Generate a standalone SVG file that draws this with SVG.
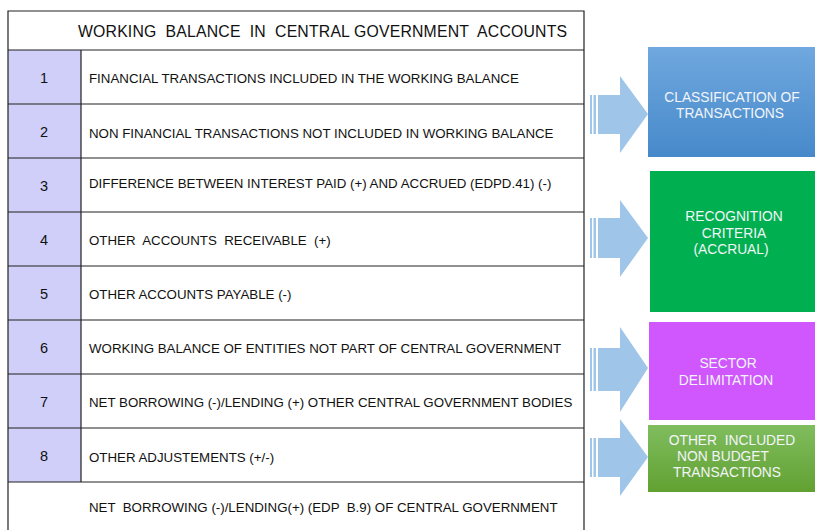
<svg xmlns="http://www.w3.org/2000/svg" width="817" height="530" viewBox="0 0 817 530">
<defs>
<linearGradient id="gBlue" x1="0" y1="0" x2="0" y2="1"><stop offset="0" stop-color="#70a8df"/><stop offset="1" stop-color="#4689ca"/></linearGradient>
<linearGradient id="gGreen" x1="0" y1="0" x2="0" y2="1"><stop offset="0" stop-color="#80bd5f"/><stop offset="1" stop-color="#61a131"/></linearGradient>
</defs>
<style>
text{white-space:pre}
.line{stroke:#222;stroke-width:1.2;fill:none}
.num{fill:#cfcff9}
.t{font-family:"Liberation Sans",Arial,sans-serif;font-size:13.3px;fill:#111}
.n{font-family:"Liberation Sans",Arial,sans-serif;font-size:14.5px;fill:#111;text-anchor:middle}
.h{font-family:"Liberation Sans",Arial,sans-serif;font-size:15.8px;fill:#111}
.b{font-family:"Liberation Sans",Arial,sans-serif;font-size:13.8px;fill:#f2f4f8;text-anchor:middle}
.arr{fill:#9fc5e8}
</style>
<rect width="817" height="530" fill="#ffffff"/>
<g id="table">
<rect class="num" x="8" y="50" width="73" height="432"/>
<path class="line" d="M8,530 V11 H584 V530 M8,50 H584 M8,104 H584 M8,158 H584 M8,212 H584 M8,266 H584 M8,320 H584 M8,374 H584 M8,428 H584 M8,482 H584 M81,50 V482"/>
<text class="h" x="78" y="37" textLength="489" lengthAdjust="spacing" xml:space="preserve">WORKING  BALANCE  IN  CENTRAL GOVERNMENT  ACCOUNTS</text>
</g>
<g id="row1"><text class="n" x="44" y="83">1</text><text class="t" x="89" y="83">FINANCIAL TRANSACTIONS INCLUDED IN THE WORKING BALANCE</text></g>
<g id="row2"><text class="n" x="44" y="137">2</text><text class="t" x="89" y="138">NON FINANCIAL TRANSACTIONS NOT INCLUDED IN WORKING BALANCE</text></g>
<g id="row3"><text class="n" x="44" y="191">3</text><text class="t" x="89" y="188">DIFFERENCE BETWEEN INTEREST PAID (+) AND ACCRUED (EDPD.41) (-)</text></g>
<g id="row4"><text class="n" x="44" y="245">4</text><text class="t" x="89" y="245" xml:space="preserve">OTHER  ACCOUNTS  RECEIVABLE  (+)</text></g>
<g id="row5"><text class="n" x="44" y="299">5</text><text class="t" x="89" y="299">OTHER ACCOUNTS PAYABLE (-)</text></g>
<g id="row6"><text class="n" x="44" y="353">6</text><text class="t" x="89" y="353">WORKING BALANCE OF ENTITIES NOT PART OF CENTRAL GOVERNMENT</text></g>
<g id="row7"><text class="n" x="44" y="407">7</text><text class="t" x="89" y="407">NET BORROWING (-)/LENDING (+) OTHER CENTRAL GOVERNMENT BODIES</text></g>
<g id="row8"><text class="n" x="44" y="461">8</text><text class="t" x="89" y="462">OTHER ADJUSTEMENTS (+/-)</text></g>
<g id="total"><text class="t" x="89" y="512" xml:space="preserve">NET  BORROWING (-)/LENDING(+) (EDP  B.9) OF CENTRAL GOVERNMENT</text></g>
<g id="connectors">
<g class="arr">
<rect x="590" y="95" width="2" height="39"/><rect x="593.5" y="95" width="2.5" height="39"/><path d="M598,95 H620 V76 L648,114 L620,153 V134 H598 Z"/>
<rect x="590" y="218" width="2" height="40"/><rect x="593.5" y="218" width="2.5" height="40"/><path d="M598,218 H620 V200 L648,238 L620,277 V258 H598 Z"/>
<rect x="590" y="348" width="2" height="43"/><rect x="593.5" y="348" width="2.5" height="43"/><path d="M598,348 H620 V327 L648,368 L620,412 V391 H598 Z"/>
<rect x="590" y="438" width="2" height="39"/><rect x="593.5" y="438" width="2.5" height="39"/><path d="M598,438 H620 V419 L648,457 L620,496 V477 H598 Z"/>
</g>
</g>
<g id="classification"><rect x="648" y="47" width="167" height="110" fill="url(#gBlue)"/><text class="b" x="732" y="102">CLASSIFICATION OF</text><text class="b" x="730" y="118">TRANSACTIONS</text></g>
<g id="recognition"><rect x="650" y="171" width="165" height="141" fill="#00b050"/><text class="b" x="734" y="221">RECOGNITION</text><text class="b" x="734" y="238">CRITERIA</text><text class="b" x="731" y="254">(ACCRUAL)</text></g>
<g id="sector"><rect x="649" y="322" width="166" height="98" fill="#cf57fd"/><text class="b" x="728" y="368">SECTOR</text><text class="b" x="726" y="385">DELIMITATION</text></g>
<g id="other"><rect x="648" y="425" width="167" height="67" fill="url(#gGreen)"/><text class="b" x="732" y="445" xml:space="preserve">OTHER  INCLUDED</text><text class="b" x="723" y="461">NON BUDGET</text><text class="b" x="727" y="477">TRANSACTIONS</text></g>
</svg>
